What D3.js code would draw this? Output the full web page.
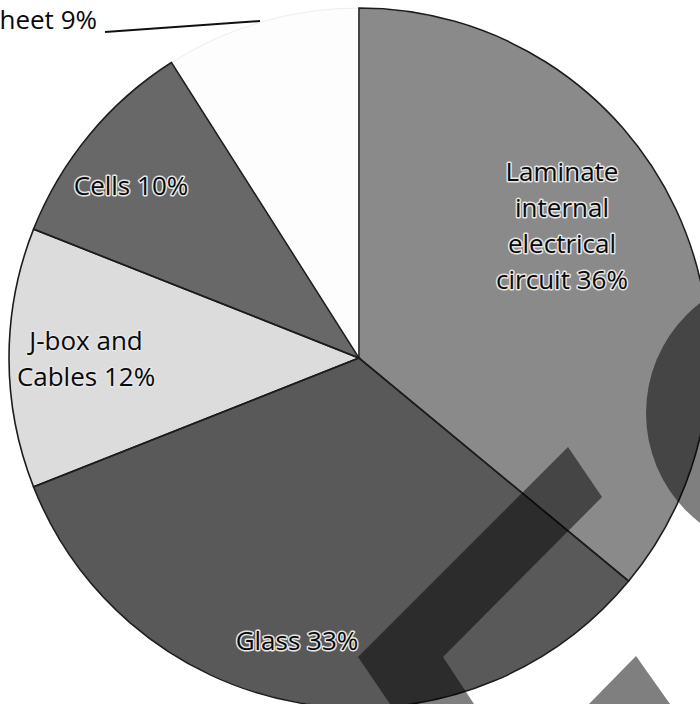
<!DOCTYPE html>
<html>
<head>
<meta charset="utf-8">
<script src="https://cdn.jsdelivr.net/npm/d3@7"></script>
<style>
  body { margin: 0; background: #fff; }
  svg { display: block; }
  text { font-family: "Open Sans", "Noto Sans", sans-serif; }
</style>
</head>
<body>
<div id="chart"></div>
<script>
// data
const labels = [
  ["Laminate", "internal", "electrical", "circuit 36%"],
  ["Glass 33%"],
  ["J-box and", "Cables 12%"],
  ["Cells 10%"],
  ["Backsheet 9%"]
];
const values = [36, 33, 12, 10, 9];
const colors = ["#8a8a8a", "#595959", "#dcdcdc", "#686868", "#fdfdfd"];

const width = 700,
  height = 704,
  cx = 359,
  cy = 358,
  radius = 350;

const svg = d3
  .select("#chart")
  .append("svg")
  .attr("width", width)
  .attr("height", height);

const pie = d3.pie().sort(null).value(d => d);
const arcs = pie(values);
const arc = d3.arc().innerRadius(0).outerRadius(radius);

const g = svg.append("g").attr("transform", `translate(${cx},${cy})`);

// fills first, then outlines so the white slice keeps a faint rim
g.selectAll("path.slice")
  .data(arcs)
  .enter()
  .append("path")
  .attr("class", "slice")
  .attr("d", arc)
  .attr("fill", (d, i) => colors[i])
  .attr("stroke", "#eeeeee")
  .attr("stroke-width", 1);

g.selectAll("path.edge")
  .data(arcs.filter((d, i) => i < 4))
  .enter()
  .append("path")
  .attr("class", "edge")
  .attr("d", arc)
  .attr("fill", "none")
  .attr("stroke", "#1c1c1c")
  .attr("stroke-width", 1.6);

// label placement (relative to centre), lines 36px apart
const labelPos = [
  { x: 203, y: -177 },
  { x: -62, y: 292 },
  { x: -273, y: -8 },
  { x: -228, y: -163 }
];

labels.slice(0, 4).forEach((lines, i) => {
  const t = g
    .append("text")
    .attr("x", labelPos[i].x)
    .attr("y", labelPos[i].y)
    .attr("text-anchor", "middle")
    .attr("font-size", 26)
    .attr("fill", "#0a0a0a")
    .attr("stroke", "#e6e6e6")
    .attr("stroke-width", 3)
    .attr("stroke-linejoin", "round")
    .attr("paint-order", "stroke");
  lines.forEach((l, j) => {
    t.append("tspan")
      .attr("x", labelPos[i].x)
      .attr("dy", j === 0 ? 0 : 36)
      .text(l);
  });
});

// backsheet label with leader line (outside the pie)
svg
  .append("text")
  .attr("x", 97)
  .attr("y", 29)
  .attr("text-anchor", "end")
  .attr("font-size", 26)
  .attr("fill", "#0a0a0a")
  .text(labels[4][0]);

svg
  .append("line")
  .attr("x1", 105)
  .attr("y1", 32)
  .attr("x2", 260)
  .attr("y2", 21)
  .attr("stroke", "#111")
  .attr("stroke-width", 2);

// translucent overlay shapes lying across the picture
const overlay = svg.append("g").attr("fill", "#000").attr("fill-opacity", 0.5);
overlay.append("circle").attr("cx", 785).attr("cy", 413).attr("r", 139);
overlay
  .append("path")
  .attr("d", "M568,447 L602,497 L443,657 L474,704 L390,704 L358,657 Z");
overlay
  .append("path")
  .attr("d", "M636,656 L670,704 L589,704 Z");
</script>
</body>
</html>
